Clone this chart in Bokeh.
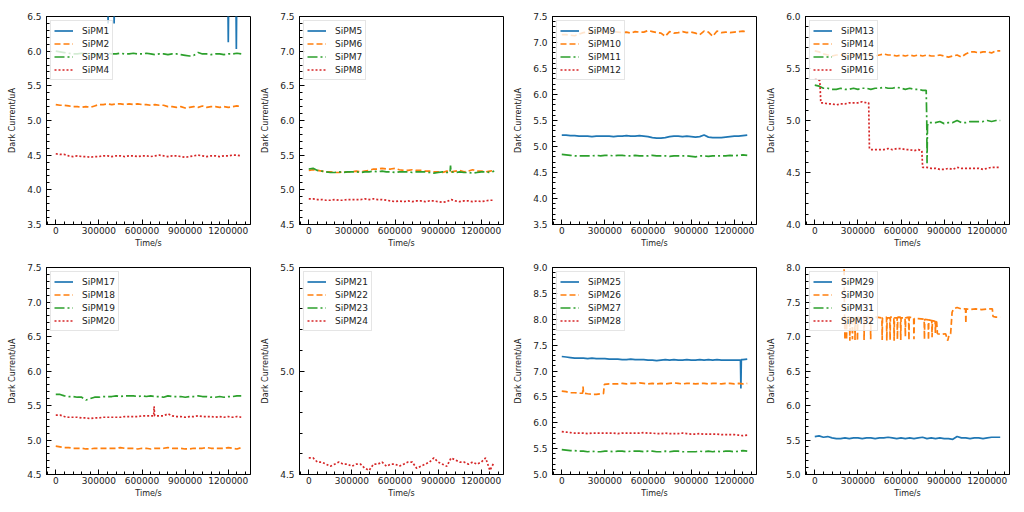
from bokeh.plotting import figure
from bokeh.layouts import column, row
from bokeh.models import Range1d, FixedTicker, PrintfTickFormatter, Legend, LegendItem
from bokeh.embed import file_html
from bokeh.resources import INLINE

# ---------------- data ----------------
T = [0, 30000, 60000, 90000, 120000, 150000, 180000, 210000, 240000, 270000,
     300000, 330000, 360000, 390000, 420000, 450000, 480000, 510000, 540000, 570000,
     600000, 630000, 660000, 690000, 720000, 750000, 780000, 810000, 840000, 870000,
     900000, 930000, 960000, 990000, 1020000, 1050000, 1080000, 1110000, 1140000, 1170000,
     1200000, 1230000, 1260000, 1290000]

T_DEAD = [0, 1290000]
V_DEAD = [0.0, 0.0]   # channels that never appear inside the plotted windows

T1 = [0, 361000, 364000, 367000, 403000, 406000, 409000,
      1197000, 1200000, 1203000, 1253000, 1256000, 1259000, 1290000]
V1 = [6.80, 6.80, 6.40, 6.80, 6.80, 6.40, 6.80,
      6.80, 6.13, 6.80, 6.80, 6.03, 6.80, 6.80]

V2 = [5.23, 5.22, 5.22, 5.21, 5.20, 5.20, 5.19, 5.20, 5.19, 5.21,
      5.23, 5.23, 5.24, 5.23, 5.24, 5.24, 5.23, 5.24, 5.23, 5.24,
      5.23, 5.23, 5.22, 5.23, 5.22, 5.22, 5.20, 5.20, 5.19, 5.20,
      5.18, 5.19, 5.20, 5.19, 5.21, 5.19, 5.20, 5.20, 5.19, 5.20,
      5.19, 5.20, 5.21, 5.20]
V3 = [6.00, 5.99, 5.98, 5.97, 5.96, 5.96, 5.97, 5.96, 5.96, 5.95,
      5.96, 5.96, 5.97, 5.96, 5.96, 5.97, 5.96, 5.96, 5.97, 5.96,
      5.96, 5.97, 5.96, 5.95, 5.96, 5.96, 5.95, 5.96, 5.96, 5.95,
      5.94, 5.93, 5.94, 5.98, 5.96, 5.96, 5.95, 5.96, 5.96, 5.95,
      5.96, 5.96, 5.97, 5.96]
V4 = [4.52, 4.51, 4.51, 4.49, 4.48, 4.49, 4.48, 4.48, 4.47, 4.48,
      4.48, 4.49, 4.49, 4.48, 4.49, 4.49, 4.48, 4.49, 4.49, 4.48,
      4.49, 4.49, 4.48, 4.49, 4.50, 4.49, 4.48, 4.49, 4.49, 4.48,
      4.47, 4.48, 4.49, 4.50, 4.49, 4.48, 4.49, 4.49, 4.48, 4.49,
      4.49, 4.50, 4.50, 4.49]

V6 = [5.28, 5.29, 5.28, 5.27, 5.26, 5.26, 5.25, 5.25, 5.26, 5.26,
      5.26, 5.27, 5.26, 5.27, 5.28, 5.30, 5.30, 5.31, 5.30, 5.30,
      5.31, 5.29, 5.28, 5.28, 5.29, 5.28, 5.28, 5.27, 5.27, 5.26,
      5.26, 5.25, 5.27, 5.26, 5.27, 5.28, 5.26, 5.27, 5.29, 5.27,
      5.27, 5.26, 5.27, 5.28]
T7 = T[:33] + [983000, 986000, 989000] + T[34:]
V7 = [5.30, 5.31, 5.28, 5.27, 5.26, 5.25, 5.25, 5.26, 5.25, 5.26,
      5.26, 5.26, 5.25, 5.26, 5.26, 5.27, 5.26, 5.27, 5.26, 5.26,
      5.25, 5.26, 5.26, 5.26, 5.25, 5.26, 5.26, 5.26, 5.25, 5.24,
      5.25, 5.26, 5.25,
      5.25, 5.35, 5.26,
      5.25, 5.26, 5.25, 5.25, 5.24, 5.25, 5.26, 5.26, 5.25, 5.27]
V8 = [4.87, 4.87, 4.86, 4.86, 4.85, 4.85, 4.86, 4.85, 4.85, 4.86,
      4.86, 4.86, 4.86, 4.87, 4.86, 4.87, 4.86, 4.86, 4.85, 4.84,
      4.83, 4.84, 4.83, 4.84, 4.83, 4.84, 4.84, 4.83, 4.84, 4.84,
      4.83, 4.82, 4.83, 4.86, 4.84, 4.83, 4.84, 4.84, 4.83, 4.84,
      4.83, 4.84, 4.85, 4.85]

V9 = [5.22, 5.22, 5.21, 5.21, 5.20, 5.20, 5.20, 5.19, 5.20, 5.20,
      5.20, 5.20, 5.19, 5.20, 5.20, 5.21, 5.20, 5.20, 5.21, 5.20,
      5.19, 5.17, 5.16, 5.16, 5.17, 5.19, 5.20, 5.20, 5.19, 5.20,
      5.19, 5.18, 5.19, 5.22, 5.18, 5.17, 5.17, 5.17, 5.18, 5.19,
      5.20, 5.20, 5.21, 5.22]
V10 = [7.15, 7.15, 7.14, 7.13, 7.16, 7.19, 7.20, 7.20, 7.21, 7.20,
       7.21, 7.20, 7.21, 7.20, 7.19, 7.20, 7.18, 7.21, 7.20, 7.20,
       7.23, 7.21, 7.19, 7.18, 7.12, 7.21, 7.18, 7.19, 7.21, 7.19,
       7.20, 7.18, 7.15, 7.22, 7.20, 7.12, 7.22, 7.19, 7.20, 7.19,
       7.20, 7.21, 7.22, 7.20]
V11 = [4.85, 4.84, 4.83, 4.82, 4.82, 4.82, 4.82, 4.82, 4.83, 4.82,
       4.83, 4.83, 4.82, 4.83, 4.83, 4.82, 4.82, 4.83, 4.82, 4.82,
       4.82, 4.83, 4.82, 4.82, 4.82, 4.81, 4.82, 4.82, 4.82, 4.82,
       4.81, 4.80, 4.82, 4.82, 4.81, 4.82, 4.82, 4.82, 4.82, 4.83,
       4.82, 4.83, 4.84, 4.83]

V14 = [5.67, 5.66, 5.64, 5.63, 5.62, 5.63, 5.63, 5.63, 5.62, 5.63,
       5.64, 5.63, 5.63, 5.63, 5.62, 5.63, 5.64, 5.63, 5.63, 5.62,
       5.63, 5.62, 5.63, 5.62, 5.63, 5.62, 5.63, 5.62, 5.62, 5.63,
       5.62, 5.61, 5.62, 5.63, 5.61, 5.64, 5.66, 5.66, 5.65, 5.66,
       5.66, 5.65, 5.67, 5.67]
T15 = T[:26] + [775000, 779000, 781000, 784000, 790000] + T[27:]
V15 = [5.34, 5.33, 5.31, 5.31, 5.30, 5.30, 5.31, 5.30, 5.30, 5.31,
       5.30, 5.31, 5.31, 5.30, 5.31, 5.31, 5.32, 5.31, 5.31, 5.32,
       5.31, 5.30, 5.31, 5.30, 5.30, 5.29,
       5.29, 5.00, 4.59, 4.95, 4.98,
       4.98, 4.98, 4.99, 4.97, 4.98, 4.98, 5.00, 4.98, 4.98, 4.99,
       4.99, 4.99, 4.99, 5.00, 4.99, 5.00, 5.00]
T16 = [0, 20000, 35000, 42000, 60000, 90000, 120000, 150000, 180000, 210000,
       240000, 270000, 300000, 330000, 360000, 375000, 380000, 390000, 420000, 450000,
       480000, 510000, 540000, 570000, 600000, 630000, 660000, 690000, 720000, 745000,
       750000, 780000, 810000, 840000, 870000, 900000, 930000, 960000, 990000, 1020000,
       1050000, 1080000, 1110000, 1140000, 1170000, 1200000, 1230000, 1260000, 1290000]
V16 = [5.40, 5.40, 5.38, 5.17, 5.17, 5.16, 5.16, 5.15, 5.16, 5.16,
       5.17, 5.17, 5.17, 5.18, 5.17, 5.17, 4.73, 4.72, 4.72, 4.72,
       4.72, 4.73, 4.72, 4.73, 4.73, 4.72, 4.72, 4.71, 4.72, 4.71,
       4.55, 4.55, 4.54, 4.54, 4.53, 4.53, 4.54, 4.53, 4.55, 4.54,
       4.54, 4.54, 4.54, 4.54, 4.53, 4.54, 4.55, 4.55, 4.55]

V18 = [4.91, 4.90, 4.89, 4.89, 4.88, 4.88, 4.88, 4.87, 4.87, 4.88,
       4.88, 4.88, 4.88, 4.88, 4.88, 4.89, 4.88, 4.88, 4.88, 4.87,
       4.88, 4.88, 4.87, 4.88, 4.88, 4.88, 4.89, 4.88, 4.88, 4.88,
       4.87, 4.87, 4.88, 4.88, 4.88, 4.89, 4.88, 4.88, 4.88, 4.88,
       4.89, 4.88, 4.87, 4.89]
V19 = [5.66, 5.66, 5.64, 5.63, 5.63, 5.62, 5.62, 5.58, 5.60, 5.62,
       5.62, 5.63, 5.63, 5.63, 5.64, 5.63, 5.64, 5.64, 5.64, 5.63,
       5.64, 5.63, 5.64, 5.63, 5.63, 5.62, 5.64, 5.63, 5.63, 5.63,
       5.62, 5.63, 5.63, 5.64, 5.63, 5.63, 5.62, 5.62, 5.63, 5.62,
       5.63, 5.63, 5.64, 5.64]
T20 = T[:23] + [681000, 684000, 687000] + T[23:]
V20 = [5.36, 5.36, 5.34, 5.33, 5.33, 5.33, 5.32, 5.32, 5.31, 5.32,
       5.32, 5.33, 5.33, 5.33, 5.33, 5.33, 5.34, 5.34, 5.34, 5.34,
       5.35, 5.35, 5.35,
       5.35, 5.49, 5.36,
       5.35, 5.35, 5.35, 5.38, 5.35, 5.34, 5.34, 5.33, 5.34, 5.34,
       5.35, 5.34, 5.34, 5.34, 5.33, 5.34, 5.33, 5.34, 5.33, 5.34, 5.33]

V24 = [4.58, 4.58, 4.56, 4.56, 4.55, 4.54, 4.55, 4.56, 4.55, 4.55,
       4.54, 4.55, 4.55, 4.53, 4.52, 4.55, 4.55, 4.56, 4.54, 4.55,
       4.55, 4.54, 4.55, 4.56, 4.56, 4.53, 4.54, 4.55, 4.56, 4.58,
       4.56, 4.55, 4.54, 4.58, 4.57, 4.56, 4.56, 4.55, 4.56, 4.55,
       4.56, 4.58, 4.52, 4.56]

T25 = T[:42] + [1243000, 1246000, 1249000] + T[42:]
V25 = [7.28, 7.27, 7.26, 7.25, 7.25, 7.25, 7.24, 7.25, 7.24, 7.24,
       7.24, 7.23, 7.23, 7.23, 7.22, 7.22, 7.23, 7.22, 7.22, 7.22,
       7.21, 7.21, 7.20, 7.21, 7.22, 7.21, 7.22, 7.21, 7.21, 7.22,
       7.21, 7.21, 7.22, 7.21, 7.22, 7.21, 7.22, 7.21, 7.21, 7.21,
       7.21, 7.21,
       7.21, 6.66, 7.22,
       7.22, 7.23]
T26 = [0, 30000, 60000, 90000, 120000, 145000, 148000, 151000, 180000, 210000,
       240000, 270000, 290000, 296000, 330000, 360000, 390000, 420000, 450000, 480000,
       510000, 540000, 570000, 600000, 630000, 660000, 690000, 720000, 750000, 780000,
       810000, 840000, 870000, 900000, 930000, 960000, 990000, 1020000, 1050000, 1080000,
       1110000, 1140000, 1170000, 1200000, 1230000, 1260000, 1290000]
V26 = [6.61, 6.60, 6.58, 6.58, 6.57, 6.57, 6.70, 6.57, 6.56, 6.55,
       6.55, 6.56, 6.56, 6.74, 6.75, 6.75, 6.75, 6.76, 6.75, 6.76,
       6.76, 6.77, 6.76, 6.75, 6.76, 6.75, 6.76, 6.75, 6.76, 6.77,
       6.76, 6.75, 6.76, 6.76, 6.75, 6.76, 6.76, 6.75, 6.76, 6.76,
       6.75, 6.76, 6.76, 6.75, 6.76, 6.75, 6.76]
V27 = [5.48, 5.47, 5.46, 5.46, 5.45, 5.45, 5.44, 5.45, 5.44, 5.44,
       5.45, 5.45, 5.44, 5.45, 5.45, 5.44, 5.45, 5.45, 5.45, 5.44,
       5.45, 5.45, 5.44, 5.44, 5.45, 5.44, 5.45, 5.45, 5.44, 5.44,
       5.44, 5.44, 5.45, 5.44, 5.45, 5.44, 5.45, 5.44, 5.45, 5.45,
       5.44, 5.45, 5.46, 5.45]
V28 = [5.83, 5.82, 5.81, 5.80, 5.80, 5.80, 5.79, 5.80, 5.80, 5.80,
       5.80, 5.80, 5.80, 5.79, 5.80, 5.80, 5.80, 5.80, 5.80, 5.81,
       5.80, 5.80, 5.79, 5.79, 5.80, 5.79, 5.79, 5.79, 5.80, 5.79,
       5.78, 5.78, 5.79, 5.78, 5.78, 5.78, 5.78, 5.77, 5.77, 5.77,
       5.77, 5.76, 5.75, 5.76]

V29 = [5.55, 5.56, 5.54, 5.55, 5.53, 5.52, 5.52, 5.53, 5.52, 5.53,
       5.53, 5.52, 5.53, 5.53, 5.52, 5.53, 5.53, 5.54, 5.53, 5.52,
       5.53, 5.52, 5.53, 5.52, 5.53, 5.54, 5.52, 5.53, 5.52, 5.53,
       5.52, 5.52, 5.51, 5.55, 5.53, 5.53, 5.52, 5.53, 5.53, 5.52,
       5.53, 5.54, 5.54, 5.54]
T30 = [0, 200000, 204000, 207000, 210000, 213000,
       219000, 221000, 223000,
       242000, 244000, 246000,
       260000, 262000, 264000,
       278000, 280000, 282000,
       295000, 297000, 299000,
       320000,
       341000, 343000, 345000,
       365000,
       387000, 389000, 391000,
       430000,
       467000, 469000, 471000,
       499000, 501000, 503000,
       522000, 524000, 526000,
       550000, 552000, 554000,
       573000, 575000, 577000,
       596000, 598000, 600000,
       628000, 630000, 632000,
       653000, 655000, 657000,
       688000, 690000, 692000,
       720000,
       761000, 763000, 765000,
       789000, 791000, 793000,
       814000, 816000, 818000,
       837000, 839000, 841000,
       848000, 853000, 880000, 910000, 925000, 935000, 945000, 955000, 965000, 990000,
       1020000, 1049000, 1051000, 1053000, 1080000, 1120000, 1160000, 1200000, 1235000, 1240000,
       1260000, 1290000]
V30 = [8.60, 8.60, 7.97, 7.28, 6.95, 7.27,
       7.27, 6.95, 7.27,
       7.28, 6.94, 7.27,
       7.27, 6.96, 7.28,
       7.27, 6.95, 7.27,
       7.28, 6.94, 7.28,
       7.27,
       7.28, 6.95, 7.27,
       7.28,
       7.27, 6.96, 7.27,
       7.28,
       7.27, 6.95, 7.27,
       7.28, 6.94, 7.27,
       7.27, 6.95, 7.28,
       7.28, 6.94, 7.27,
       7.27, 6.96, 7.28,
       7.28, 6.95, 7.27,
       7.27, 7.00, 7.27,
       7.28, 6.95, 7.28,
       7.27, 6.96, 7.26,
       7.26,
       7.25, 6.96, 7.25,
       7.24, 6.95, 7.24,
       7.23, 6.99, 7.23,
       7.22, 7.05, 7.22,
       7.21, 7.04, 7.03, 7.04, 6.94, 7.03, 7.04, 7.35, 7.40, 7.42,
       7.40, 7.40, 7.19, 7.40, 7.39, 7.40, 7.39, 7.40, 7.40, 7.29,
       7.28, 7.28]

Y_LIMITS = [(3.5, 6.5), (4.5, 7.5), (3.5, 7.5), (4.0, 6.0),
            (4.5, 7.5), (4.5, 5.5), (5.0, 9.0), (5.0, 8.0)]

PANEL_SERIES = [
    [("SiPM1", T1, V1), ("SiPM2", T, V2), ("SiPM3", T, V3), ("SiPM4", T, V4)],
    [("SiPM5", T_DEAD, V_DEAD), ("SiPM6", T, V6), ("SiPM7", T7, V7), ("SiPM8", T, V8)],
    [("SiPM9", T, V9), ("SiPM10", T, V10), ("SiPM11", T, V11), ("SiPM12", T_DEAD, V_DEAD)],
    [("SiPM13", T_DEAD, V_DEAD), ("SiPM14", T, V14), ("SiPM15", T15, V15), ("SiPM16", T16, V16)],
    [("SiPM17", T_DEAD, V_DEAD), ("SiPM18", T, V18), ("SiPM19", T, V19), ("SiPM20", T20, V20)],
    [("SiPM21", T_DEAD, V_DEAD), ("SiPM22", T_DEAD, V_DEAD), ("SiPM23", T_DEAD, V_DEAD), ("SiPM24", T, V24)],
    [("SiPM25", T25, V25), ("SiPM26", T26, V26), ("SiPM27", T, V27), ("SiPM28", T, V28)],
    [("SiPM29", T, V29), ("SiPM30", T30, V30), ("SiPM31", T_DEAD, V_DEAD), ("SiPM32", T_DEAD, V_DEAD)],
]

X_TICKS = [0, 300000, 600000, 900000, 1200000]
X_TICK_LABELS = ["0", "300000", "600000", "900000", "1200000"]
X_LABEL = "Time/s"
Y_LABEL = "Dark Current/uA"

# ---------------- styling ----------------
COLORS = ["#1f77b4", "#ff7f0e", "#2ca02c", "#d62728"]
DASHES = ["solid", "6 3", "10 3 2 3", "2 2"]
FONT = "DejaVu Sans"
TEXT = "#222222"


def make_panel(y0, y1, series, height, top, bottom):
    p = figure(width=253, height=height,
               x_range=Range1d(-64500, 1354500), y_range=Range1d(y0, y1),
               output_backend="svg", toolbar_location=None,
               min_border_left=46, min_border_right=3,
               min_border_top=top, min_border_bottom=bottom)
    p.background_fill_color = "white"
    p.border_fill_color = "white"
    p.grid.visible = False
    p.outline_line_color = "black"
    p.outline_line_width = 1

    nmaj = int(round((y1 - y0) / 0.5))
    y_major = [round(y0 + 0.5 * i, 2) for i in range(nmaj + 1)]
    nmin = int(round((y1 - y0) / 0.1))
    y_minor = [round(y0 + 0.1 * i, 2) for i in range(nmin + 1)]
    x_minor = [60000 * i for i in range(-1, 23)]

    p.xaxis.ticker = FixedTicker(ticks=X_TICKS, minor_ticks=x_minor)
    p.xaxis.major_label_overrides = {t: l for t, l in zip(X_TICKS, X_TICK_LABELS)}
    p.yaxis.ticker = FixedTicker(ticks=y_major, minor_ticks=y_minor)
    p.yaxis.formatter = PrintfTickFormatter(format="%.1f")

    for ax in (p.xaxis, p.yaxis):
        ax.major_tick_in = 5
        ax.major_tick_out = 0
        ax.minor_tick_in = 3
        ax.minor_tick_out = 0
        ax.major_tick_line_color = "black"
        ax.minor_tick_line_color = "black"
        ax.axis_line_color = "black"
        ax.major_label_text_font = FONT
        ax.major_label_text_font_size = "9px"
        ax.major_label_text_color = TEXT
        ax.axis_label_text_font = FONT
        ax.axis_label_text_font_size = "8px"
        ax.axis_label_text_font_style = "normal"
        ax.axis_label_text_color = TEXT
    p.xaxis.axis_label = X_LABEL
    p.yaxis.axis_label = Y_LABEL
    p.xaxis.major_label_standoff = 2
    p.xaxis.axis_label_standoff = 2
    p.yaxis.major_label_standoff = 5
    p.yaxis.axis_label_standoff = 7

    items = []
    for k, (name, ts, vs) in enumerate(series):
        r = p.line(ts, vs, line_color=COLORS[k], line_width=1.7,
                   line_dash=DASHES[k])
        items.append(LegendItem(label=name, renderers=[r]))

    legend = Legend(items=items, location="top_left", margin=4, padding=3,
                    spacing=0, glyph_width=19, glyph_height=13, label_height=13,
                    label_standoff=9, label_text_font=FONT,
                    label_text_font_size="9px", label_text_color=TEXT,
                    border_line_color="#cccccc", border_line_width=1,
                    background_fill_color="white", background_fill_alpha=0.8)
    p.add_layout(legend)
    return p


figs = []
for i in range(8):
    y0, y1 = Y_LIMITS[i]
    if i < 4:
        figs.append(make_panel(y0, y1, PANEL_SERIES[i], 259, 16, 35))
    else:
        figs.append(make_panel(y0, y1, PANEL_SERIES[i], 245, 8, 30))

layout = column(row(*figs[:4]), row(*figs[4:]))
open("out.html", "w").write(file_html(layout, INLINE))
